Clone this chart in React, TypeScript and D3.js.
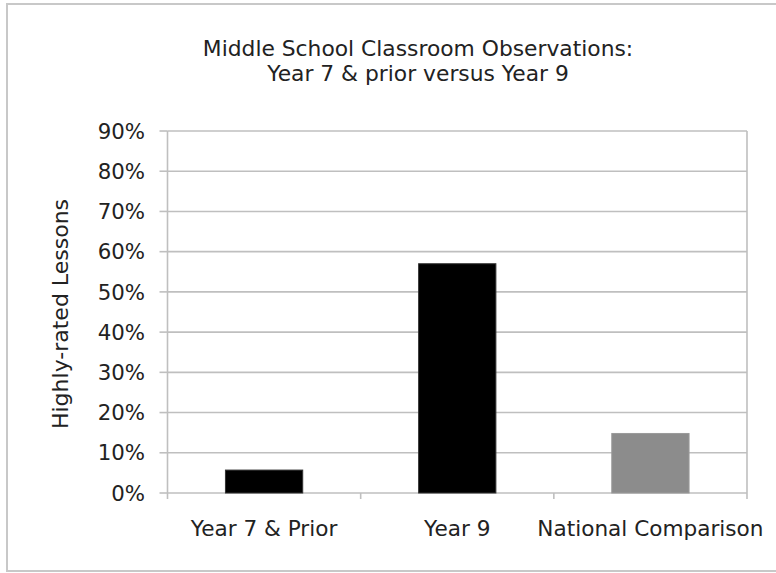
import React from "react";
import * as d3 from "d3";

const categories = ["Year 7 & Prior", "Year 9", "National Comparison"];
const values = [0.057, 0.57, 0.148];
const barColors = ["#000000", "#000000", "#8c8c8c"];
const yTicks = [0, 0.1, 0.2, 0.3, 0.4, 0.5, 0.6, 0.7, 0.8, 0.9];
const titleLines = ["Middle School Classroom Observations:", "Year 7 & prior versus Year 9"];
const yLabel = "Highly-rated Lessons";

export default function App() {
  const W = 776, H = 573;
  const left = 167.5, right = 747, top = 131, bottom = 493;
  const font = "'DejaVu Sans', Verdana, sans-serif";
  const x = d3.scaleBand<string>().domain(categories).range([left, right]).paddingInner(0).paddingOuter(0);
  const y = d3.scaleLinear().domain([0, 0.9]).range([bottom, top]);
  const bw = x.bandwidth() * 0.4;
  const fmt = d3.format(".0%");
  const grid = "#bfbfbf";
  return (
    <svg width={W} height={H} style={{ position: "absolute", left: 0, top: 0, background: "#fff" }}>
      <rect x={7} y={4} width={W + 10} height={567} fill="#fff" stroke="#c8c8c8" strokeWidth={2} />
      <g fontFamily={font} fill="#222" textAnchor="middle" fontSize={21.8}>
        <text x={418} y={56}>{titleLines[0]}</text>
        <text x={418} y={81}>{titleLines[1]}</text>
      </g>
      {yTicks.map((t) => (
        <g key={t}>
          {t > 0 && <line x1={left} x2={right} y1={y(t)} y2={y(t)} stroke={grid} strokeWidth={1.6} />}
          <line x1={left - 8} x2={left} y1={y(t)} y2={y(t)} stroke={grid} strokeWidth={1.6} />
          <text x={145} y={y(t)} dy="0.36em" textAnchor="end" fontFamily={font} fontSize={21.3} fill="#222">
            {fmt(t)}
          </text>
        </g>
      ))}
      <line x1={right} x2={right} y1={top} y2={bottom} stroke={grid} strokeWidth={1.6} />
      <line x1={left} x2={left} y1={top} y2={bottom + 6} stroke={grid} strokeWidth={1.6} />
      <line x1={left} x2={right} y1={bottom} y2={bottom} stroke={grid} strokeWidth={1.6} />
      {categories.map((c) => (
        <line key={"t" + c} x1={x(c)! + x.bandwidth()} x2={x(c)! + x.bandwidth()} y1={bottom} y2={bottom + 6} stroke={grid} strokeWidth={1.6} />
      ))}
      {categories.map((c, i) => (
        <rect
          key={c}
          x={x(c)! + (x.bandwidth() - bw) / 2}
          y={y(values[i])}
          width={bw}
          height={bottom - y(values[i])}
          fill={barColors[i]}
          stroke={i === 2 ? "#9a9a9a" : "#333"}
          strokeWidth={1}
        />
      ))}
      {categories.map((c) => (
        <text key={"l" + c} x={x(c)! + x.bandwidth() / 2} y={536} textAnchor="middle" fontFamily={font} fontSize={21.6} fill="#222">
          {c}
        </text>
      ))}
      <text
        transform={`translate(68, 314) rotate(-90)`}
        textAnchor="middle"
        fontFamily={font}
        fontSize={22}
        fill="#222"
      >
        {yLabel}
      </text>
    </svg>
  );
}
